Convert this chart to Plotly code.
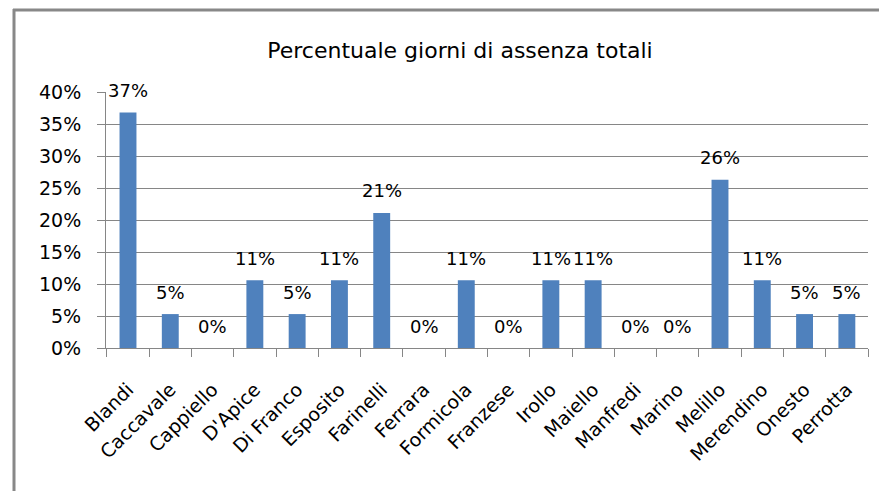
import plotly.graph_objects as go

categories = ["Blandi", "Caccavale", "Cappiello", "D'Apice", "Di Franco", "Esposito",
              "Farinelli", "Ferrara", "Formicola", "Franzese", "Irollo", "Maiello",
              "Manfredi", "Marino", "Melillo", "Merendino", "Onesto", "Perrotta"]
values = [0.368, 0.053, 0.0, 0.106, 0.053, 0.106,
          0.211, 0.0, 0.106, 0.0, 0.106, 0.106,
          0.0, 0.0, 0.263, 0.106, 0.053, 0.053]
y_ticks = [0, 0.05, 0.10, 0.15, 0.20, 0.25, 0.30, 0.35, 0.40]
y_tick_labels = ["0%", "5%", "10%", "15%", "20%", "25%", "30%", "35%", "40%"]
title = "Percentuale giorni di assenza totali"

# page has an 8px body margin, so figure coordinates are page coordinates minus 8
OFF = 8
W, H = 887 - OFF, 491 - OFF
L, T = 106 - OFF, 92 - OFF
R = W - (868 - OFF)
B = H - (348 - OFF)
pw, ph = W - L - R, H - T - B

FONT = "DejaVu Sans"
GRID = "#868686"

fig = go.Figure()
fig.add_trace(go.Bar(x=categories, y=values, marker=dict(color="#4F81BD", line=dict(width=0)),
                     width=0.4, hoverinfo="skip"))

annotations = []
for c, v in zip(categories, values):
    annotations.append(dict(x=c, y=v, xref="x", yref="y", text=f"{round(v*100)}%",
                            showarrow=False, yanchor="middle", yshift=22,
                            font=dict(family=FONT, size=18, color="#000")))

def px_x(p):
    return (p - OFF - L) / pw

def px_y(p):
    return (H - B - (p - OFF)) / ph

shapes = [
    dict(type="line", xref="paper", yref="paper", x0=px_x(14), x1=px_x(14), y0=px_y(9), y1=px_y(500),
         line=dict(color="#888888", width=3)),
    dict(type="line", xref="paper", yref="paper", x0=px_x(13), x1=px_x(900), y0=px_y(10), y1=px_y(10),
         line=dict(color="#888888", width=3)),
]

fig.update_layout(
    width=W, height=H,
    margin=dict(l=L, r=R, t=T, b=B, pad=0),
    paper_bgcolor="white", plot_bgcolor="white",
    showlegend=False,
    title=dict(text=title, x=(460 - OFF) / W, xref="container", xanchor="center",
               y=1 - (50 - OFF) / H, yref="container", yanchor="middle",
               font=dict(family=FONT, size=22, color="#000")),
    annotations=annotations,
    shapes=shapes,
    bargap=0.6,
)
fig.update_xaxes(type="category", showgrid=False, showline=True, linecolor=GRID, linewidth=1,
                 ticks="outside", tickson="boundaries", ticklen=8, tickcolor=GRID,
                 tickangle=-45, ticklabelstandoff=22,
                 tickfont=dict(family=FONT, size=19, color="#000"))
fig.update_yaxes(range=[0, 0.4], tickvals=y_ticks, ticktext=y_tick_labels,
                 showgrid=True, gridcolor=GRID, gridwidth=1,
                 showline=True, linecolor=GRID, linewidth=1,
                 ticks="outside", ticklen=8, tickcolor=GRID, ticklabelstandoff=12,
                 zeroline=False,
                 tickfont=dict(family=FONT, size=19, color="#000"))

fig.write_html("out.html")
